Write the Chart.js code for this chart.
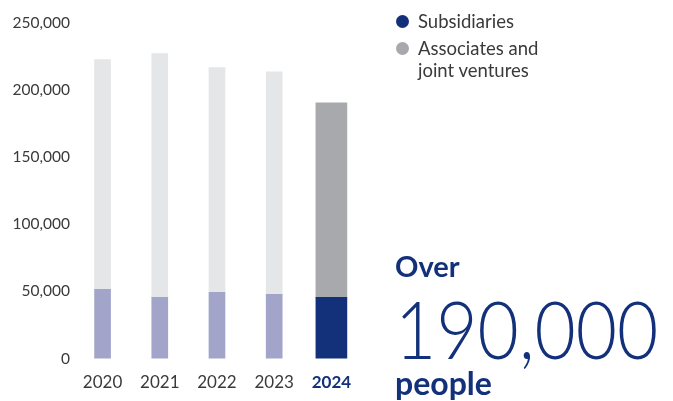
<!DOCTYPE html>
<html>
<head>
<meta charset="utf-8">
<script src="https://cdn.jsdelivr.net/npm/chart.js@4/dist/chart.umd.min.js"></script>
<style>
  html, body { margin: 0; padding: 0; background: #fff; }
  body { width: 673px; height: 401px; position: relative; overflow: hidden; font-family: Lato, "Open Sans", sans-serif; }
  #wrap { position: absolute; left: 0; top: 0; width: 673px; height: 407px; }
  .legend { position: absolute; left: 396px; top: 10px; color: #3a3a3a; font-size: 18.5px; line-height: 22px; }
  .legend .row { position: relative; padding-left: 22px; margin-bottom: 5px; }
  .legend .dot { position: absolute; left: 0; top: 5px; width: 13px; height: 13px; border-radius: 50%; }
  .big { position: absolute; left: 395px; color: #13307a; white-space: nowrap; transform-origin: left top; }
  #over { top: 248px; font-size: 29px; font-weight: 700; }
  #num { top: 280px; font-size: 80px; font-weight: 300; transform: scaleX(0.89); }
  #people { top: 363px; font-size: 32px; font-weight: 700; }
</style>
</head>
<body>
<div id="wrap"><canvas id="staffChart"></canvas></div>

<div class="legend">
  <div class="row"><span class="dot" style="background:#13307a"></span>Subsidiaries</div>
  <div class="row"><span class="dot" style="background:#a8a9ad"></span>Associates and<br>joint ventures</div>
</div>
<div class="big" id="over">Over</div>
<div class="big" id="num">190,000</div>
<div class="big" id="people">people</div>

<script>
// Employees by year
const years = ['2020', '2021', '2022', '2023', '2024'];
const subsidiaries = [51600, 45600, 49300, 47800, 45600];
const associates = [171100, 181600, 167400, 165900, 145000];
const yTicks = [0, 50000, 100000, 150000, 200000, 250000];

// the latest year is drawn wider and in full colour
const current = years.length - 1;
const past = (arr) => arr.map((v, i) => (i === current ? null : v));
const latest = (arr) => arr.map((v, i) => (i === current ? v : null));

const staffChart = new Chart(document.getElementById('staffChart'), {
  type: 'bar',
  data: {
    labels: years,
    datasets: [
      { label: 'Subsidiaries', data: past(subsidiaries), backgroundColor: '#a2a5c9', barThickness: 16, grouped: false, stack: 's' },
      { label: 'Associates and joint ventures', data: past(associates), backgroundColor: '#e5e6e8', barThickness: 16, grouped: false, stack: 's' },
      { label: 'Subsidiaries', data: latest(subsidiaries), backgroundColor: '#13307a', barThickness: 31, grouped: false, stack: 's' },
      { label: 'Associates and joint ventures', data: latest(associates), backgroundColor: '#a8a9ad', barThickness: 31, grouped: false, stack: 's' }
    ]
  },
  options: {
    responsive: true,
    maintainAspectRatio: false,
    animation: false,
    layout: { padding: { left: 8.5, right: 313, top: 23, bottom: 0 } },
    plugins: {
      legend: { display: false },
      tooltip: { enabled: false }
    },
    scales: {
      x: {
        stacked: true,
        grid: { display: false, drawTicks: false },
        border: { display: false },
        ticks: {
          padding: 14,
          color: (ctx) => (ctx.index === current ? '#13307a' : '#3a3a3a'),
          font: (ctx) => ({ family: 'Lato', size: 17, weight: ctx.index === current ? 'bold' : 'normal' })
        }
      },
      y: {
        stacked: true,
        min: 0,
        max: 250000,
        afterBuildTicks: (axis) => { axis.ticks = yTicks.map((v) => ({ value: v })); },
        grid: { display: false, drawTicks: false },
        border: { display: false },
        ticks: {
          padding: 4,
          color: '#3a3a3a',
          font: { family: 'Lato', size: 15.5 },
          callback: (v) => v.toLocaleString('en-US')
        }
      }
    }
  }
});
</script>
</body>
</html>
